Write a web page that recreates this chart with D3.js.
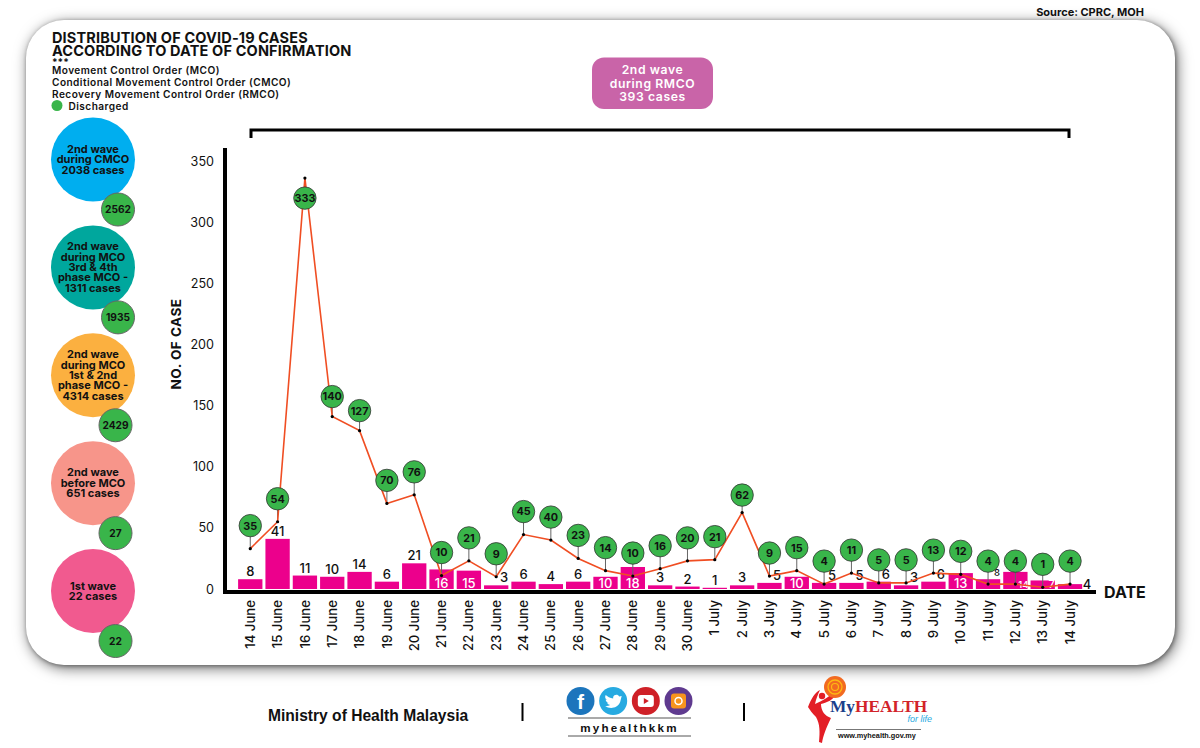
<!DOCTYPE html>
<html>
<head>
<meta charset="utf-8">
<script src="https://d3js.org/d3.v7.min.js"></script>
<style>
  html, body { margin: 0; padding: 0; background: #fff; }
  svg { display: block; }
  text { font-family: Inter, "Open Sans", sans-serif; fill: #111; }
</style>
</head>
<body>
<div id="chart"></div>
<script>
var dates = ["14 June","15 June","16 June","17 June","18 June","19 June","20 June","21 June","22 June","23 June","24 June","25 June","26 June","27 June","28 June","29 June","30 June","1 July","2 July","3 July","4 July","5 July","6 July","7 July","8 July","9 July","10 July","11 July","12 July","13 July","14 July"];
var confirmed = [8,41,11,10,14,6,21,16,15,3,6,4,6,10,18,3,2,1,3,5,10,5,5,6,3,6,13,8,14,7,4];
var dischargedLabels = [35,54,333,140,127,70,76,10,21,9,45,40,23,14,10,16,20,21,62,9,15,4,11,5,5,13,12,4,4,1,4];
// the orange line as it sits in the picture, a little off the printed labels
var dischargedLine = [33,55,336,141,129.5,70,77,11,23,10,44.5,40,25,15,10.6,16.6,23,24,62.5,10.6,15,4,13,5,5,13,12,4,4,1.4,4];
var yTicks = [0,50,100,150,200,250,300,350];

var waveNames = ["cmco","mco34","mco12","before","first"];
var waveLabels = [
  ["2nd wave","during CMCO","2038 cases"],
  ["2nd wave","during MCO","3rd & 4th","phase MCO -","1311 cases"],
  ["2nd wave","during MCO","1st & 2nd","phase MCO -","4314 cases"],
  ["2nd wave","before MCO","651 cases"],
  ["1st wave","22 cases"]
];
var waveDischarged = [2562,1935,2429,27,22];
var waveColors = ["#00aeef","#00a79d","#fbb040","#f7958a","#f15a8f"];

var titleLines = ["DISTRIBUTION OF COVID-19 CASES","ACCORDING TO DATE OF CONFIRMATION"];
var orderLines = ["Movement Control Order (MCO)","Conditional Movement Control Order (CMCO)","Recovery Movement Control Order (RMCO)"];
var rmcoLines = ["2nd wave","during RMCO","393 cases"];

var width = 1200, height = 748;
var svg = d3.select("#chart").append("svg").attr("width", width).attr("height", height);

// card with its shadow
svg.append("rect")
  .attr("x", 26).attr("y", 20).attr("width", 1149).attr("height", 645)
  .attr("rx", 38).attr("ry", 38)
  .attr("fill", "#fff")
  .style("filter", "drop-shadow(1px 1px 2px rgba(0,0,0,.4)) drop-shadow(2px 3px 7px rgba(0,0,0,.55))");

svg.append("text").attr("x", 1144).attr("y", 16).attr("text-anchor", "end")
  .style("font-size", "11px").style("font-weight", 700).text("Source: CPRC, MOH");

function multiline(g, lines, x, y, lh) {
  var t = g.append("text").attr("text-anchor", "middle");
  lines.forEach(function (s, i) {
    t.append("tspan").attr("x", x).attr("y", y + i * lh).text(s);
  });
  return t;
}

// heading block
titleLines.forEach(function (s, i) {
  svg.append("text").attr("x", 52).attr("y", 43 + i * 12.5)
    .style("font-size", "14.5px").style("font-weight", 700).style("letter-spacing", "0.15px").text(s);
});
svg.append("text").attr("x", 52).attr("y", 66).style("font-size", "10px").style("font-weight", 700).text("***");
orderLines.forEach(function (s, i) {
  svg.append("text").attr("x", 52).attr("y", 74 + i * 12.1)
    .style("font-size", "10.1px").style("font-weight", 600).style("letter-spacing", "0.45px").text(s);
});
svg.append("circle").attr("cx", 57).attr("cy", 105.5).attr("r", 5.5).attr("fill", "#39b54a");
svg.append("text").attr("x", 68.5).attr("y", 110)
  .style("font-size", "10.1px").style("font-weight", 600).style("letter-spacing", "0.45px").text("Discharged");

// wave circles down the left side
var waveY = d3.scalePoint().domain(waveNames).range([159.5, 591]);
var waves = svg.append("g").selectAll("g").data(waveNames).join("g");
waves.append("circle")
  .attr("cx", 93).attr("cy", function (d) { return waveY(d); }).attr("r", 42)
  .attr("fill", function (d, i) { return waveColors[i]; });
waves.each(function (d, i) {
  var lines = waveLabels[i], lh = 10.4;
  multiline(d3.select(this), lines, 93, waveY(d) + 3.7 - (lines.length - 1) * lh / 2, lh)
    .style("font-size", "11px").style("font-weight", 700);
});
waves.append("circle")
  .attr("cx", function (d, i) { return i < 2 ? 118 : 115.5; })
  .attr("cy", function (d) { return waveY(d) + 50; }).attr("r", 16.5)
  .attr("fill", "#39b54a").attr("stroke", "#666").attr("stroke-width", 1);
waves.append("text")
  .attr("x", function (d, i) { return i < 2 ? 118 : 115.5; })
  .attr("y", function (d) { return waveY(d) + 53.8; })
  .attr("text-anchor", "middle")
  .style("font-size", "10.2px").style("font-weight", 700)
  .text(function (d, i) { return waveDischarged[i]; });

// RMCO callout and bracket
svg.append("rect").attr("x", 592).attr("y", 57.5).attr("width", 121).attr("height", 51.5).attr("rx", 12)
  .attr("fill", "#c964a8");
multiline(svg, rmcoLines, 652.5, 74, 13.5).style("font-size", "12.2px").style("font-weight", 600).style("letter-spacing", "0.6px")
  .selectAll("tspan").style("fill", "#fff");
svg.append("path").attr("d", "M251,138V130H1069V138").attr("fill", "none").attr("stroke", "#000").attr("stroke-width", 3);

// scales
var x = d3.scaleBand().domain(dates).range([236.6, 1083.7]).paddingInner(0.11).paddingOuter(0.055);
var y = d3.scaleLinear().domain([0, 350]).range([589, 161]);
function cx(d) { return x(d) + x.bandwidth() / 2; }

// y axis labels
var yAxis = d3.axisLeft(y).tickValues(yTicks).tickSize(0).tickPadding(0);
var yG = svg.append("g").attr("transform", "translate(214,0)").call(yAxis);
yG.select(".domain").remove();
yG.selectAll("text").style("font-size", "12.6px").style("font-family", "Inter").style("fill", "#111");

// x axis labels
var xAxis = d3.axisBottom(x).tickSize(0);
var xG = svg.append("g").attr("transform", "translate(0,594)").call(xAxis);
xG.select(".domain").remove();
xG.selectAll("text")
  .attr("transform", "rotate(-90)")
  .attr("x", -6).attr("y", 0).attr("dy", "0.35em")
  .attr("text-anchor", "end")
  .style("font-size", "13.2px").style("font-weight", 500).style("font-family", "Inter").style("fill", "#111");

svg.append("text").attr("transform", "translate(181,344) rotate(-90)").attr("text-anchor", "middle")
  .style("font-size", "13.5px").style("font-weight", 700).style("letter-spacing", "0.5px").text("NO. OF CASE");
svg.append("text").attr("x", 1104).attr("y", 597.5)
  .style("font-size", "16px").style("font-weight", 700).text("DATE");

// bars
svg.append("g").selectAll("rect").data(dates).join("rect")
  .attr("x", function (d) { return x(d); })
  .attr("y", function (d, i) { return y(confirmed[i]); })
  .attr("width", x.bandwidth())
  .attr("height", function (d, i) { return y(0) - y(confirmed[i]); })
  .attr("fill", "#ec008c");

// axes on top of bars
svg.append("path").attr("d", "M225,148V592H1096").attr("fill", "none").attr("stroke", "#000").attr("stroke-width", 4);

// bar labels, white ones inside the bar, some pushed right to clear the pins
var whiteInside = [7,8,13,14,20,26,28,29];
var pushRight = {9:8,19:7.5,21:8,22:8,23:7,24:8,25:7.5,27:9,28:8,29:9,30:17};
svg.append("g").selectAll("text").data(dates).join("text")
  .attr("x", function (d, i) { return cx(d) + (pushRight[i] || 0); })
  .attr("y", function (d, i) {
    if (whiteInside.indexOf(i) >= 0) return 588;
    if (i == 30) return 588.5;
    return y(confirmed[i]) - 3;
  })
  .attr("text-anchor", "middle")
  .style("font-size", function (d, i) { return (i == 27 || i == 28) ? "9.5px" : (i == 29 ? "11px" : "13px"); })
  .style("font-weight", 500)
  .style("fill", function (d, i) { return whiteInside.indexOf(i) >= 0 ? "#fff" : "#111"; })
  .text(function (d, i) { return confirmed[i]; });

// where the discharged bubble sits relative to its point
var bubbleGap = {2:-20,3:20,4:20,18:17.5};
function bubbleY(i) {
  var gap = bubbleGap[i] === undefined ? 23 : bubbleGap[i];
  return y(dischargedLine[i]) - gap;
}

// pins, line, dots, bubbles
svg.append("g").selectAll("line").data(dates).join("line")
  .attr("x1", cx).attr("x2", cx)
  .attr("y1", function (d, i) { return y(dischargedLine[i]); })
  .attr("y2", function (d, i) { return bubbleY(i); })
  .attr("stroke", "#666").attr("stroke-width", 1);

var line = d3.line()
  .x(function (d, i) { return cx(dates[i]); })
  .y(function (d) { return y(d); });
svg.append("path").datum(dischargedLine).attr("d", line)
  .attr("fill", "none").attr("stroke", "#f04e23").attr("stroke-width", 1.6);

svg.append("g").selectAll("circle").data(dates).join("circle")
  .attr("cx", cx).attr("cy", function (d, i) { return y(dischargedLine[i]); })
  .attr("r", 1.6).attr("fill", "#000");

svg.append("g").selectAll("circle").data(dates).join("circle")
  .attr("cx", cx).attr("cy", function (d, i) { return bubbleY(i); })
  .attr("r", 11.2).attr("fill", "#39b54a").attr("stroke", "#333").attr("stroke-width", 0.8);

svg.append("g").selectAll("text").data(dates).join("text")
  .attr("x", cx).attr("y", function (d, i) { return bubbleY(i) + 3.9; })
  .attr("text-anchor", "middle")
  .style("font-size", "10.8px").style("font-weight", 700)
  .text(function (d, i) { return dischargedLabels[i]; });

// footer
var footer = svg.append("g");
footer.append("text").attr("x", 268).attr("y", 721)
  .style("font-family", "Liberation Sans").style("font-size", "15.6px").style("font-weight", 700).text("Ministry of Health Malaysia");
footer.append("path").attr("d", "M522.5,703V721M744,703V721").attr("stroke", "#000").attr("stroke-width", 2);

var socials = [
  {c: "#1c75bc"}, {c: "#27aae1"}, {c: "#cf2027"}, {c: "#5f3a8f"}
];
var socialX = d3.scalePoint().domain(d3.range(4)).range([580.5, 678.5]);
footer.selectAll("circle.soc").data(socials).join("circle").attr("class", "soc")
  .attr("cx", function (d, i) { return socialX(i); }).attr("cy", 701).attr("r", 14)
  .attr("fill", function (d) { return d.c; });
footer.append("text").attr("x", socialX(0)).attr("y", 709).attr("text-anchor", "middle")
  .style("font-family", "Liberation Sans").style("font-size", "21px").style("font-weight", 700).style("fill", "#fff").text("f");
footer.append("path").attr("transform", "translate(" + socialX(1) + ",701)")
  .attr("d", "M-8,5C-4,8 4,8 7,1C7.5,-1 8,-3 8.5,-5L6,-4.5C5,-7 1,-7 0,-4C0,-3.5 0,-3 0,-2.5C-3,-3 -6,-4.5 -7.5,-6C-8.5,-4 -8,-2 -6,-1L-7.5,-1.5C-7.5,0 -6,2 -4.5,2L-6,2.3C-5,3.5 -4,4 -3,4C-4.5,5 -6,5.3 -8,5Z")
  .attr("fill", "#fff");
footer.append("rect").attr("x", socialX(2) - 8).attr("y", 695).attr("width", 16).attr("height", 12).attr("rx", 3).attr("fill", "#fff");
footer.append("path").attr("transform", "translate(" + socialX(2) + ",701)").attr("d", "M-2,-3L3,0L-2,3Z").attr("fill", "#cf2027");
footer.append("rect").attr("x", socialX(3) - 7.5).attr("y", 693.5).attr("width", 15).attr("height", 15).attr("rx", 3).attr("fill", "#f7941d");
footer.append("circle").attr("cx", socialX(3)).attr("cy", 701).attr("r", 3.5).attr("fill", "none").attr("stroke", "#fff").attr("stroke-width", 1.5);
footer.append("path").attr("d", "M568,718H691M568,736H691").attr("stroke", "#555").attr("stroke-width", 1);
footer.append("text").attr("x", 629.5).attr("y", 732).attr("text-anchor", "middle")
  .style("font-family", "Liberation Sans").style("font-size", "11.6px").style("font-weight", 700).style("letter-spacing", "2.2px").text("myhealthkkm");

// MyHEALTH logo
footer.append("path")
  .attr("d", "M838,692C834,700 826,703 821,704C821,711 825,716 831,718C826,728 823,736 822,743L819,742C820,732 820,724 816,717C812,713 810,710 808,707C811,699 815,692 820,690C818,694 816,699 815,704C822,701 830,697 835,690Z")
  .attr("fill", "#e31e26");
footer.append("circle").attr("cx", 822).attr("cy", 696).attr("r", 3.2).attr("fill", "#e31e26");
footer.append("circle").attr("cx", 835).attr("cy", 687).attr("r", 11).attr("fill", "#f26a21");
footer.append("circle").attr("cx", 835).attr("cy", 687).attr("r", 7).attr("fill", "none").attr("stroke", "#fdb913").attr("stroke-width", 1.3);
footer.append("circle").attr("cx", 835).attr("cy", 687).attr("r", 3.5).attr("fill", "none").attr("stroke", "#fdb913").attr("stroke-width", 1.2);
var brand = footer.append("text").attr("x", 830).attr("y", 712)
  .style("font-family", "Liberation Serif").style("font-size", "17.3px").style("font-weight", 700);
brand.append("tspan").style("fill", "#1b3f8b").text("My");
brand.append("tspan").style("fill", "#d2232a").text("HEALTH");
footer.append("text").attr("x", 932).attr("y", 722).attr("text-anchor", "end")
  .style("font-family", "Liberation Sans").style("font-size", "9px").style("font-style", "italic").style("fill", "#27aae1").text("for life");
footer.append("path").attr("d", "M836,729.5H921").attr("stroke", "#777").attr("stroke-width", 1);
footer.append("text").attr("x", 838).attr("y", 737.5)
  .style("font-family", "Liberation Sans").style("font-size", "7.3px").style("font-weight", 700).text("www.myhealth.gov.my");
</script>
</body>
</html>
